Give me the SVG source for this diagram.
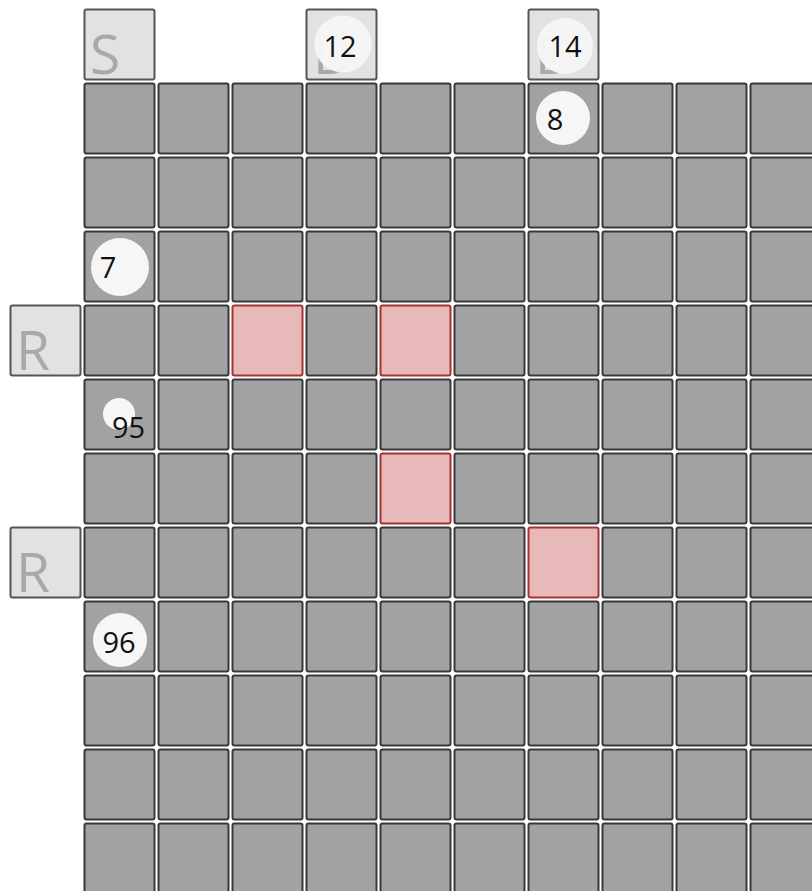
<svg xmlns="http://www.w3.org/2000/svg" width="812" height="891" viewBox="0 0 812 891">
<style>
.g{fill:#a2a2a2;stroke:#383838;stroke-width:2}
.hl{fill:#e8b9b9;stroke:#a83232;stroke-width:2}
.h{fill:#e2e2e2;stroke:#555;stroke-width:2}
.lt{font-family:"Open Sans","Noto Sans",sans-serif;font-size:55px;fill:#a9a9a9}
.num{font-family:"Open Sans","Noto Sans",sans-serif;font-size:29px;fill:#111;text-anchor:middle}
.bd{fill:#f6f6f6}
</style>
<rect width="812" height="891" fill="#ffffff"/>
<defs>
<rect id="cell" width="70" height="70" rx="2"/>
</defs>
<g id="header-S"><rect class="h" x="84.5" y="9.5" width="70" height="70" rx="2"/><text class="lt" x="90" y="74">S</text></g>
<g id="header-12"><rect class="h" x="306.5" y="9.5" width="70" height="70" rx="2"/><text class="lt" x="313" y="74">D</text><circle class="bd" cx="343" cy="44" r="28.5" opacity="0.96"/><text class="num" x="340" y="57">12</text></g>
<g id="header-14"><rect class="h" x="528.5" y="9.5" width="70" height="70" rx="2"/><text class="lt" x="535" y="74">D</text><circle class="bd" cx="565" cy="46" r="28" opacity="0.96"/><text class="num" x="565" y="57">14</text></g>
<g id="row-R1"><rect class="h" x="10.5" y="305.5" width="70" height="70" rx="2"/><text class="lt" x="16" y="370">R</text></g>
<g id="row-R2"><rect class="h" x="10.5" y="527.5" width="70" height="70" rx="2"/><text class="lt" x="16" y="592">R</text></g>
<g id="grid">
<g id="r0"><use href="#cell" class="g" x="84.5" y="83.5"/><use href="#cell" class="g" x="158.5" y="83.5"/><use href="#cell" class="g" x="232.5" y="83.5"/><use href="#cell" class="g" x="306.5" y="83.5"/><use href="#cell" class="g" x="380.5" y="83.5"/><use href="#cell" class="g" x="454.5" y="83.5"/><use href="#cell" class="g" x="528.5" y="83.5"/><use href="#cell" class="g" x="602.5" y="83.5"/><use href="#cell" class="g" x="676.5" y="83.5"/><use href="#cell" class="g" x="750.5" y="83.5"/></g>
<g id="r1"><use href="#cell" class="g" x="84.5" y="157.5"/><use href="#cell" class="g" x="158.5" y="157.5"/><use href="#cell" class="g" x="232.5" y="157.5"/><use href="#cell" class="g" x="306.5" y="157.5"/><use href="#cell" class="g" x="380.5" y="157.5"/><use href="#cell" class="g" x="454.5" y="157.5"/><use href="#cell" class="g" x="528.5" y="157.5"/><use href="#cell" class="g" x="602.5" y="157.5"/><use href="#cell" class="g" x="676.5" y="157.5"/><use href="#cell" class="g" x="750.5" y="157.5"/></g>
<g id="r2"><use href="#cell" class="g" x="84.5" y="231.5"/><use href="#cell" class="g" x="158.5" y="231.5"/><use href="#cell" class="g" x="232.5" y="231.5"/><use href="#cell" class="g" x="306.5" y="231.5"/><use href="#cell" class="g" x="380.5" y="231.5"/><use href="#cell" class="g" x="454.5" y="231.5"/><use href="#cell" class="g" x="528.5" y="231.5"/><use href="#cell" class="g" x="602.5" y="231.5"/><use href="#cell" class="g" x="676.5" y="231.5"/><use href="#cell" class="g" x="750.5" y="231.5"/></g>
<g id="r3"><use href="#cell" class="g" x="84.5" y="305.5"/><use href="#cell" class="g" x="158.5" y="305.5"/><use href="#cell" class="hl" x="232.5" y="305.5"/><use href="#cell" class="g" x="306.5" y="305.5"/><use href="#cell" class="hl" x="380.5" y="305.5"/><use href="#cell" class="g" x="454.5" y="305.5"/><use href="#cell" class="g" x="528.5" y="305.5"/><use href="#cell" class="g" x="602.5" y="305.5"/><use href="#cell" class="g" x="676.5" y="305.5"/><use href="#cell" class="g" x="750.5" y="305.5"/></g>
<g id="r4"><use href="#cell" class="g" x="84.5" y="379.5"/><use href="#cell" class="g" x="158.5" y="379.5"/><use href="#cell" class="g" x="232.5" y="379.5"/><use href="#cell" class="g" x="306.5" y="379.5"/><use href="#cell" class="g" x="380.5" y="379.5"/><use href="#cell" class="g" x="454.5" y="379.5"/><use href="#cell" class="g" x="528.5" y="379.5"/><use href="#cell" class="g" x="602.5" y="379.5"/><use href="#cell" class="g" x="676.5" y="379.5"/><use href="#cell" class="g" x="750.5" y="379.5"/></g>
<g id="r5"><use href="#cell" class="g" x="84.5" y="453.5"/><use href="#cell" class="g" x="158.5" y="453.5"/><use href="#cell" class="g" x="232.5" y="453.5"/><use href="#cell" class="g" x="306.5" y="453.5"/><use href="#cell" class="hl" x="380.5" y="453.5"/><use href="#cell" class="g" x="454.5" y="453.5"/><use href="#cell" class="g" x="528.5" y="453.5"/><use href="#cell" class="g" x="602.5" y="453.5"/><use href="#cell" class="g" x="676.5" y="453.5"/><use href="#cell" class="g" x="750.5" y="453.5"/></g>
<g id="r6"><use href="#cell" class="g" x="84.5" y="527.5"/><use href="#cell" class="g" x="158.5" y="527.5"/><use href="#cell" class="g" x="232.5" y="527.5"/><use href="#cell" class="g" x="306.5" y="527.5"/><use href="#cell" class="g" x="380.5" y="527.5"/><use href="#cell" class="g" x="454.5" y="527.5"/><use href="#cell" class="hl" x="528.5" y="527.5"/><use href="#cell" class="g" x="602.5" y="527.5"/><use href="#cell" class="g" x="676.5" y="527.5"/><use href="#cell" class="g" x="750.5" y="527.5"/></g>
<g id="r7"><use href="#cell" class="g" x="84.5" y="601.5"/><use href="#cell" class="g" x="158.5" y="601.5"/><use href="#cell" class="g" x="232.5" y="601.5"/><use href="#cell" class="g" x="306.5" y="601.5"/><use href="#cell" class="g" x="380.5" y="601.5"/><use href="#cell" class="g" x="454.5" y="601.5"/><use href="#cell" class="g" x="528.5" y="601.5"/><use href="#cell" class="g" x="602.5" y="601.5"/><use href="#cell" class="g" x="676.5" y="601.5"/><use href="#cell" class="g" x="750.5" y="601.5"/></g>
<g id="r8"><use href="#cell" class="g" x="84.5" y="675.5"/><use href="#cell" class="g" x="158.5" y="675.5"/><use href="#cell" class="g" x="232.5" y="675.5"/><use href="#cell" class="g" x="306.5" y="675.5"/><use href="#cell" class="g" x="380.5" y="675.5"/><use href="#cell" class="g" x="454.5" y="675.5"/><use href="#cell" class="g" x="528.5" y="675.5"/><use href="#cell" class="g" x="602.5" y="675.5"/><use href="#cell" class="g" x="676.5" y="675.5"/><use href="#cell" class="g" x="750.5" y="675.5"/></g>
<g id="r9"><use href="#cell" class="g" x="84.5" y="749.5"/><use href="#cell" class="g" x="158.5" y="749.5"/><use href="#cell" class="g" x="232.5" y="749.5"/><use href="#cell" class="g" x="306.5" y="749.5"/><use href="#cell" class="g" x="380.5" y="749.5"/><use href="#cell" class="g" x="454.5" y="749.5"/><use href="#cell" class="g" x="528.5" y="749.5"/><use href="#cell" class="g" x="602.5" y="749.5"/><use href="#cell" class="g" x="676.5" y="749.5"/><use href="#cell" class="g" x="750.5" y="749.5"/></g>
<g id="r10"><use href="#cell" class="g" x="84.5" y="823.5"/><use href="#cell" class="g" x="158.5" y="823.5"/><use href="#cell" class="g" x="232.5" y="823.5"/><use href="#cell" class="g" x="306.5" y="823.5"/><use href="#cell" class="g" x="380.5" y="823.5"/><use href="#cell" class="g" x="454.5" y="823.5"/><use href="#cell" class="g" x="528.5" y="823.5"/><use href="#cell" class="g" x="602.5" y="823.5"/><use href="#cell" class="g" x="676.5" y="823.5"/><use href="#cell" class="g" x="750.5" y="823.5"/></g>
</g>
<g id="badge-8"><circle class="bd" cx="563" cy="118" r="27"/><text class="num" x="555" y="130">8</text></g>
<g id="badge-7"><circle class="bd" cx="120" cy="267" r="29"/><text class="num" x="108" y="278">7</text></g>
<g id="badge-95"><circle class="bd" cx="119" cy="414" r="16"/><text class="num" x="128.5" y="438">95</text></g>
<g id="badge-96"><circle class="bd" cx="120" cy="640" r="27"/><text class="num" x="119" y="653">96</text></g>
<g id="connectors"/>
</svg>
